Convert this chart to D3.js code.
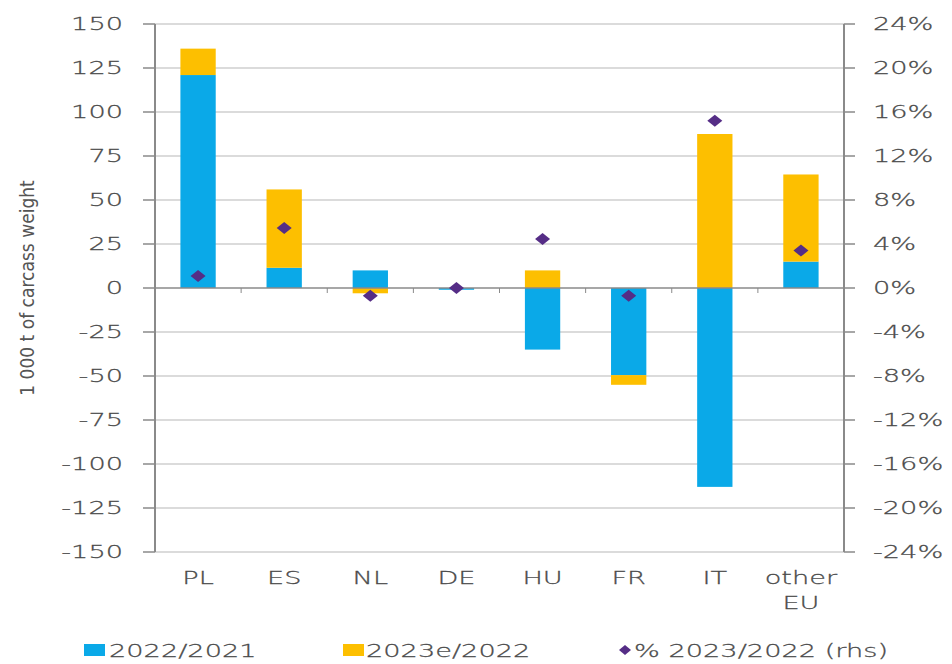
<!DOCTYPE html>
<html><head><meta charset="utf-8">
<script src="https://cdn.jsdelivr.net/npm/d3@7"></script>
<style>body{margin:0;background:#fff}svg{display:block}</style>
</head><body>
<svg id="c" width="952" height="664"></svg>
<script>
const categories = ["PL","ES","NL","DE","HU","FR","IT","other EU"];
const s2022 = [121, 11.5, 10, -1, -35, -49.5, -113, 15];
const s2023 = [15, 44.5, -3, 0, 10, -5.5, 87.5, 49.5];
const pct = [1.1, 5.45, -0.7, 0, 4.45, -0.7, 15.2, 3.4];
const leftTicks = [150,125,100,75,50,25,0,-25,-50,-75,-100,-125,-150];
const rightTicks = [24,20,16,12,8,4,0,-4,-8,-12,-16,-20,-24];
const seriesNames = ["2022/2021","2023e/2022","% 2023/2022 (rhs)"];

const BLUE="#0aa9e8", YELLOW="#fdbf00", PURPLE="#552d86", TXT="#4a4a4a";
const SX = 1.6, FS = 17;
const svg = d3.select("#c");
const L=155, R=844, T=24, B=552;
const x = d3.scaleBand().domain(categories).range([L,R]).paddingInner(0.59).paddingOuter(0.295);
const y = d3.scaleLinear().domain([-150,150]).range([B,T]);
const y2 = d3.scaleLinear().domain([-24,24]).range([B,T]);

function stext(g, tx, ty, str, anchor){
  return g.append("text").attr("transform",`translate(${tx},${ty}) scale(${SX},1)`)
    .attr("text-anchor",anchor).attr("font-family","DejaVu Sans").attr("font-weight",200)
    .attr("font-size",FS).attr("fill",TXT).attr("stroke",TXT).attr("stroke-width",0.25).text(str);
}

// gridlines
svg.append("g").selectAll("line").data(leftTicks.filter(d=>d!==0)).join("line")
  .attr("x1",L).attr("x2",R).attr("y1",d=>y(d)).attr("y2",d=>y(d))
  .attr("stroke","#cfcfcf").attr("stroke-width",1.5);

// bars
const bw = x.bandwidth();
const g = svg.append("g");
categories.forEach((c,i)=>{
  const a = s2022[i], b = s2023[i];
  g.append("rect").attr("x",x(c)).attr("width",bw)
    .attr("y",y(Math.max(0,a))).attr("height",Math.abs(y(a)-y(0))).attr("fill",BLUE);
  let base = (Math.sign(a)===Math.sign(b)) ? a : 0;
  const top = base + b;
  g.append("rect").attr("x",x(c)).attr("width",bw)
    .attr("y",y(Math.max(base,top))).attr("height",Math.abs(y(base)-y(top))).attr("fill",YELLOW);
});

// zero line
svg.append("line").attr("x1",L).attr("x2",R).attr("y1",y(0)).attr("y2",y(0))
  .attr("stroke","#8a8a8a").attr("stroke-width",1.5);
svg.append("g").selectAll("line").data(d3.range(1,categories.length)).join("line")
  .attr("x1",d=>L+d*x.step()).attr("x2",d=>L+d*x.step())
  .attr("y1",y(0)).attr("y2",y(0)+5).attr("stroke","#8a8a8a").attr("stroke-width",1);

// axes lines
svg.append("line").attr("x1",L).attr("x2",L).attr("y1",T).attr("y2",B).attr("stroke","#8a8a8a").attr("stroke-width",2);
svg.append("line").attr("x1",R).attr("x2",R).attr("y1",T).attr("y2",B).attr("stroke","#8a8a8a").attr("stroke-width",2);
svg.append("g").selectAll("line").data(leftTicks).join("line")
  .attr("x1",L-12).attr("x2",L).attr("y1",d=>y(d)).attr("y2",d=>y(d)).attr("stroke","#8a8a8a").attr("stroke-width",1.5);
svg.append("g").selectAll("line").data(rightTicks).join("line")
  .attr("x1",R).attr("x2",R+11).attr("y1",d=>y2(d)).attr("y2",d=>y2(d)).attr("stroke","#8a8a8a").attr("stroke-width",1.5);

// tick labels
const lt = svg.append("g");
leftTicks.forEach(d=>stext(lt,123,y(d)+6,String(d),"end"));
const rt = svg.append("g");
rightTicks.forEach(d=>stext(rt,873,y2(d)+6,String(d)+"%","start"));

// category labels
const cl = svg.append("g");
categories.forEach(c=>{
  const cx = x(c)+bw/2;
  if(c==="other EU"){ stext(cl,cx,584,"other","middle"); stext(cl,cx,609,"EU","middle"); }
  else stext(cl,cx,584,c,"middle");
});

// diamonds
const dia = (w,h)=>`M0,${-h/2}L${w/2},0L0,${h/2}L${-w/2},0Z`;
svg.append("g").selectAll("path").data(pct).join("path")
  .attr("d",dia(15,12)).attr("fill",PURPLE)
  .attr("transform",(d,i)=>`translate(${x(categories[i])+bw/2},${y2(d)})`);

// y title
svg.append("text").attr("transform",`translate(34,${(T+B)/2}) rotate(-90)`)
  .attr("text-anchor","middle").attr("font-family","DejaVu Sans Condensed, DejaVu Sans").attr("font-size",19)
  .attr("font-weight",300).attr("fill","#555").text("1 000 t of carcass weight");

// legend
const lg = svg.append("g");
lg.append("rect").attr("x",84).attr("y",644).attr("width",21).attr("height",12).attr("fill",BLUE);
stext(lg,109,657,seriesNames[0],"start");
lg.append("rect").attr("x",343).attr("y",644).attr("width",21).attr("height",12).attr("fill",YELLOW);
stext(lg,366,657,seriesNames[1],"start");
lg.append("path").attr("d",dia(12,10)).attr("fill",PURPLE).attr("transform","translate(625,650)");
stext(lg,634,657,seriesNames[2],"start");
</script>
</body></html>
